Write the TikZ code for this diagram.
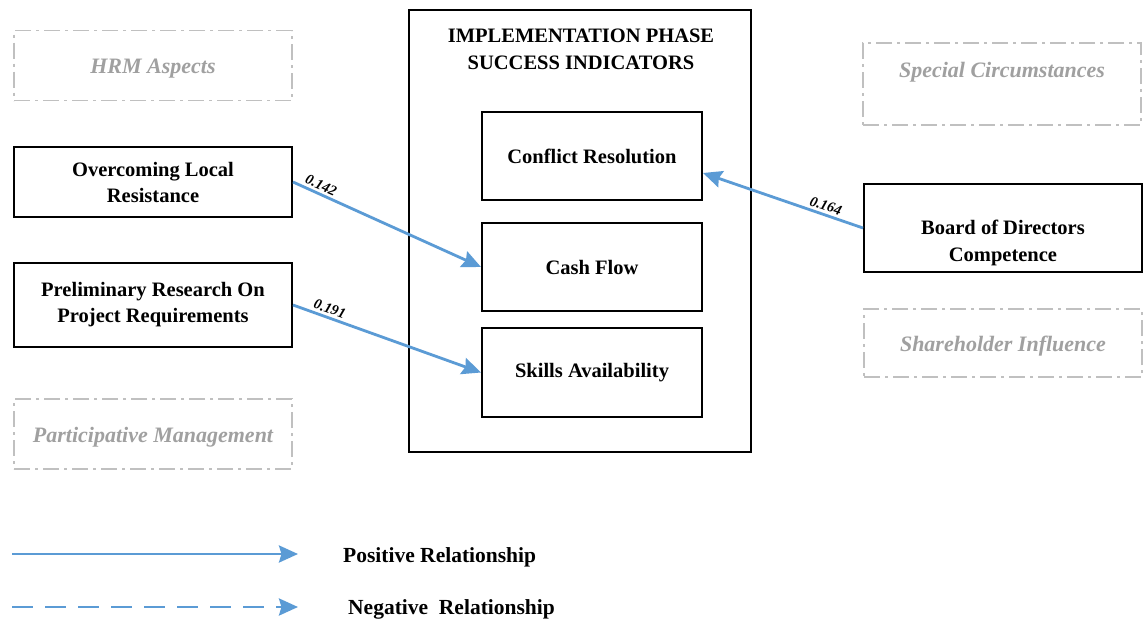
\documentclass[tikz,border=0pt]{standalone}
\usepackage{fontspec}
\setmainfont{Liberation Serif}
\usetikzlibrary{arrows.meta}

\definecolor{relblue}{RGB}{91,155,213}
\definecolor{ghostline}{RGB}{192,192,192}
\definecolor{ghosttext}{RGB}{160,160,160}

\tikzset{
  factor/.style={draw=black, line width=2pt, minimum width=278pt, inner sep=0pt,
    align=center, font=\fontsize{20.5}{26}\selectfont\bfseries},
  indicator/.style={draw=black, line width=2pt, minimum width=220pt, inner sep=0pt,
    align=center, font=\fontsize{20.5}{26}\selectfont\bfseries},
  ghost/.style={draw=ghostline, line width=1.8pt,
    dash pattern=on 16pt off 5pt on 3pt off 5pt,
    minimum width=278pt, inner sep=0pt, text=ghosttext,
    text height=19pt, text depth=3pt,
    font=\fontsize{22}{26}\selectfont\bfseries\itshape},
  relarrow/.style={draw=relblue, line width=2.8pt,
    -{Stealth[length=19pt,width=17pt,inset=2.5pt]}},
  coef/.style={font=\fontsize{14.5}{16}\selectfont\bfseries\itshape,
    sloped, above, inner sep=2.5pt},
  legendtext/.style={anchor=west, inner sep=0pt,
    font=\fontsize{21.5}{24}\selectfont\bfseries}
}

\begin{document}
\begin{tikzpicture}[x=1pt, y=-1pt]
  \useasboundingbox[fill=white] (0,0) rectangle (1144,621);

  % left column of factors
  \node[ghost, minimum height=70pt] (hrm) at (153,65.5) {HRM Aspects};
  \node[factor, minimum height=70pt] (olr) at (153,182) {Overcoming Local\\Resistance};
  \node[factor, minimum height=84pt] (prr) at (153,305) {Preliminary Research On\\Project Requirements};
  \node[ghost, minimum height=70pt] (pm) at (153,434) {Participative Management};

  % central block of success indicators
  \node[draw=black, line width=2pt, minimum width=342pt, minimum height=442pt,
        inner sep=0pt] (outer) at (580,231) {};
  \node[align=center, inner sep=0pt,
        font=\fontsize{20.5}{27}\selectfont\bfseries] (title) at (581,49)
        {IMPLEMENTATION PHASE\\SUCCESS INDICATORS};
  \node[indicator, minimum height=88pt] (cr) at (592,156) {Conflict Resolution};
  \node[indicator, minimum height=88pt] (cf) at (592,267) {Cash Flow};
  \node[indicator, minimum height=89pt] (sa) at (592,372.5) {Skills Availability};

  % right column of factors
  \node[ghost, minimum height=82pt,
        label={[text=ghosttext, font=\fontsize{22}{26}\selectfont\bfseries\itshape,
                yshift=12pt, name=sctext]center:Special Circumstances}] (sc) at (1002,84) {};
  \node[factor, minimum height=88pt,
        label={[align=center, font=\fontsize{20.5}{26.5}\selectfont\bfseries,
                yshift=-15pt, name=bodtext]center:{Board of Directors\\Competence}}] (bod) at (1003,228) {};
  \node[ghost, minimum height=68pt] (shi) at (1003,343) {Shareholder Influence};

  % significant relationships
  \draw[relarrow] (olr.east) -- node[coef, pos=0.13] {0.142} (cf.west);
  \draw[relarrow] (prr.east) -- node[coef, pos=0.18] {0.191} (sa.west);
  \draw[relarrow] (bod.west) -- node[coef, pos=0.25] {0.164} ([yshift=-17pt]cr.east);

  % legend
  \coordinate (possrc) at (12,554);
  \coordinate (posdst) at (298,554);
  \coordinate (negsrc) at (12,607);
  \coordinate (negdst) at (298,607);
  \draw[relarrow] (possrc) -- (posdst);
  \draw[relarrow, dash pattern=on 21pt off 12pt] (negsrc) -- (negdst);
  \node[legendtext] (postext) at (343,557) {Positive Relationship};
  \node[legendtext] (negtext) at (348,609) {Negative\ \ Relationship};
\end{tikzpicture}
\end{document}
